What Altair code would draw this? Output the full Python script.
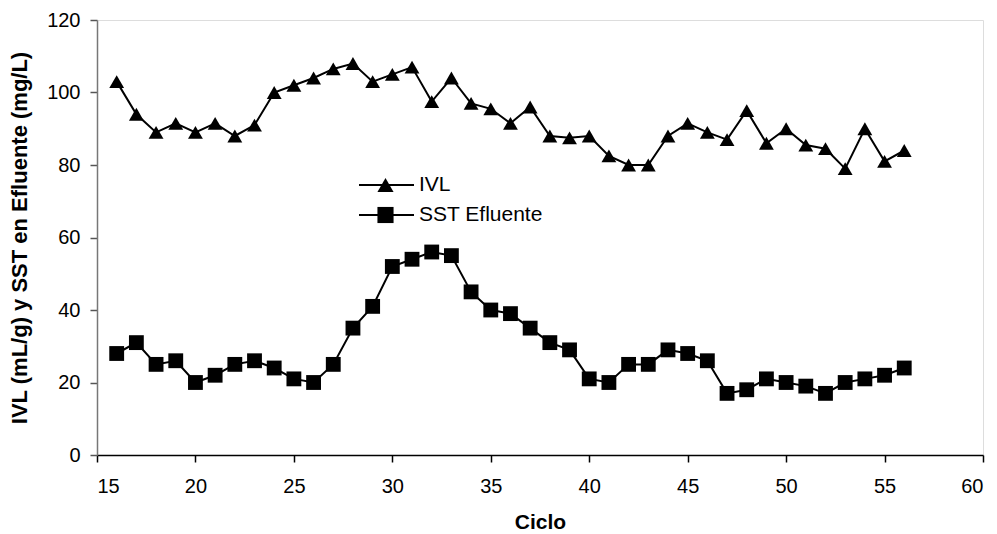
import altair as alt
import pandas as pd

ciclo = list(range(16, 57))
ivl = [103, 94, 89, 91.5, 89, 91.5, 88, 91, 100, 102, 104, 106.5, 108, 103, 105, 107,
       97.5, 104, 97, 95.5, 91.5, 96, 88, 87.5, 88, 82.5, 80, 80, 88, 91.5, 89, 87,
       95, 86, 90, 85.5, 84.5, 79, 90, 81, 84]
sst = [28, 31, 25, 26, 20, 22, 25, 26, 24, 21, 20, 25, 35, 41, 52, 54, 56, 55, 45, 40,
       39, 35, 31, 29, 21, 20, 25, 25, 29, 28, 26, 17, 18, 21, 20, 19, 17, 20, 21, 22, 24]
series = ["IVL", "SST Efluente"]
marker_keys = ["m_IVL", "m_SST"]

rows = []
for c, v in zip(ciclo, ivl):
    rows.append({"Ciclo": c, "valor": v, "serie": series[0], "marca": marker_keys[0]})
for c, v in zip(ciclo, sst):
    rows.append({"Ciclo": c, "valor": v, "serie": series[1], "marca": marker_keys[1]})
df = pd.DataFrame(rows)

FONT = "Liberation Sans"

x = alt.X("Ciclo:Q", title="Ciclo",
          scale=alt.Scale(domain=[15, 60], nice=False, zero=False),
          axis=alt.Axis(values=list(range(15, 61, 5)), grid=False, tickSize=7,
                        labelFontSize=20, titleFontSize=21, titleFontWeight="bold",
                        labelFont=FONT, titleFont=FONT, domainColor="black", tickColor="black",
                        labelColor="black", titleColor="black", labelPadding=14,
                        titlePadding=15, domainWidth=1.5, tickWidth=1.5))
y = alt.Y("valor:Q", title="IVL (mL/g) y SST en Efluente (mg/L)",
          scale=alt.Scale(domain=[0, 120], nice=False),
          axis=alt.Axis(values=list(range(0, 121, 20)), grid=False, tickSize=7,
                        labelFontSize=20, titleFontSize=22, titleFontWeight="bold",
                        labelFont=FONT, titleFont=FONT, domainColor="#777", tickColor="#555",
                        labelColor="black", titleColor="black", labelPadding=10,
                        titlePadding=15, domainWidth=1.5, tickWidth=1.5))

lines = alt.Chart(df).mark_line(strokeWidth=2).encode(
    x=x, y=y,
    color=alt.Color("serie:N",
                    scale=alt.Scale(domain=series, range=["black", "black"]),
                    legend=alt.Legend(title=None, orient="none", legendX=261, legendY=150,
                                      symbolType="stroke", symbolSize=3025,
                                      symbolStrokeWidth=2, clipHeight=30, rowPadding=0,
                                      labelFontSize=21, labelFont=FONT, labelColor="black",
                                      labelOffset=4, padding=0)),
    detail="serie:N",
)

points = alt.Chart(df).mark_point(filled=True, opacity=1, color="black").encode(
    x=x, y=y,
    shape=alt.Shape("marca:N",
                    scale=alt.Scale(domain=marker_keys, range=["triangle-up", "square"]),
                    legend=alt.Legend(title=None, orient="none", legendX=280, legendY=150,
                                      symbolSize=260, symbolFillColor="black",
                                      symbolStrokeColor="black", symbolStrokeWidth=0,
                                      symbolOpacity=1, clipHeight=30, rowPadding=0,
                                      labelExpr="''", labelFontSize=1, labelOffset=0,
                                      padding=0)),
    size=alt.value(220),
)

chart = alt.layer(lines, points).properties(
    width=886, height=435,
    padding={"left": 0, "top": 2, "right": 5, "bottom": 0},
).configure_view(stroke=None).configure(background="white")

chart.save("out.html", embed_options={"renderer": "svg", "actions": False})
